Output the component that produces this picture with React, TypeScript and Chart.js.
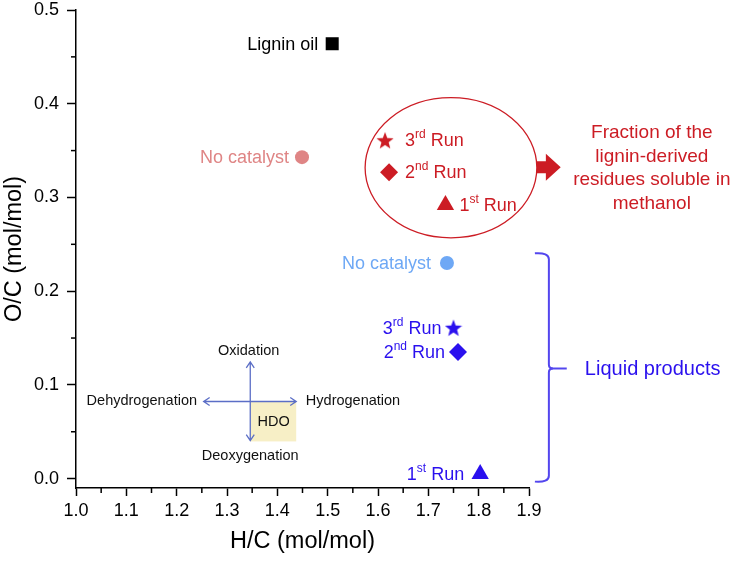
import React, { useEffect, useRef } from "react";
import { Chart, registerables } from "chart.js";
Chart.register(...registerables);

const FONT = '"Liberation Sans", Arial, Helvetica, sans-serif';

// ---- axis ticks ----
const xTicks = [1.0, 1.1, 1.2, 1.3, 1.4, 1.5, 1.6, 1.7, 1.8, 1.9];
const xMinorTicks = [1.05, 1.15, 1.25, 1.35, 1.45, 1.55, 1.65, 1.75, 1.85];
const yTicks = [0.0, 0.1, 0.2, 0.3, 0.4, 0.5];
const yMinorTicks = [0.05, 0.15, 0.25, 0.35, 0.45];

// ---- data (H/C, O/C) ----
const ligninOil = [{ x: 1.509, y: 0.464 }];
const residueNoCatalyst = [{ x: 1.449, y: 0.343 }];
const residueRun3 = [{ x: 1.614, y: 0.361 }];
const residueRun2 = [{ x: 1.622, y: 0.327 }];
const residueRun1 = [{ x: 1.734, y: 0.292 }];
const liquidNoCatalyst = [{ x: 1.737, y: 0.23 }];
const liquidRun3 = [{ x: 1.75, y: 0.161 }];
const liquidRun2 = [{ x: 1.759, y: 0.135 }];
const liquidRun1 = [{ x: 1.803, y: 0.005 }];

// ---- labels ----
const ligninOilLabel = [{ t: "Lignin oil" }];
const noCatalystLabel = [{ t: "No catalyst" }];
const run3Label = [{ t: "3" }, { t: "rd", sup: true }, { t: " Run" }];
const run2Label = [{ t: "2" }, { t: "nd", sup: true }, { t: " Run" }];
const run1Label = [{ t: "1" }, { t: "st", sup: true }, { t: " Run" }];
const fractionText = ["Fraction of the", "lignin-derived", "residues soluble in", "methanol"];
const liquidText = "Liquid products";
const diagramLabels = ["Oxidation", "Dehydrogenation", "Hydrogenation", "Deoxygenation", "HDO"];
const xTitle = "H/C (mol/mol)";
const yTitle = "O/C (mol/mol)";

// ---- colours ----
const BLACK = "#000000";
const PINK = "#df8585";
const RED = "#cc1c24";
const LIGHTBLUE = "#6ea8f5";
const BLUE = "#2a10ee";
const BRACE = "#5346ee";
const DIAG = "#5b6ec6";
const HDOFILL = "#f7efc6";

function makeStar(color: string, size: number) {
  const c = document.createElement("canvas");
  c.width = size;
  c.height = size;
  const g = c.getContext("2d")!;
  const R = size / 2;
  const r = R * 0.42;
  const cx = size / 2;
  const cy = size / 2 + R * 0.095;
  g.beginPath();
  for (let i = 0; i < 10; i++) {
    const a = -Math.PI / 2 + (i * Math.PI) / 5;
    const rad = i % 2 === 0 ? R : r;
    g.lineTo(cx + rad * Math.cos(a), cy + rad * Math.sin(a));
  }
  g.closePath();
  g.fillStyle = color;
  g.fill();
  return c;
}

type Part = { t: string; sup?: boolean };

function drawRich(ctx: CanvasRenderingContext2D, parts: Part[], x: number, y: number, align: string, size: number, color: string) {
  const mainFont = `${size}px ${FONT}`;
  const supFont = `${Math.round(size * 0.64)}px ${FONT}`;
  const widths = parts.map((p) => {
    ctx.font = p.sup ? supFont : mainFont;
    return ctx.measureText(p.t).width;
  });
  const total = widths.reduce((a, b) => a + b, 0);
  let cx = align === "left" ? x : align === "right" ? x - total : x - total / 2;
  ctx.textAlign = "left";
  ctx.textBaseline = "middle";
  ctx.fillStyle = color;
  parts.forEach((p, i) => {
    ctx.font = p.sup ? supFont : mainFont;
    ctx.fillText(p.t, cx, p.sup ? y - size * 0.36 : y);
    cx += widths[i];
  });
}

export default function App() {
  const ref = useRef<HTMLCanvasElement>(null);

  useEffect(() => {
    const canvas = ref.current!;
    const redStar = makeStar(RED, 18);
    const blueStar = makeStar(BLUE, 18);

    const series = [
      { data: ligninOil, style: "rect", radius: 9.2, color: BLACK, label: ligninOilLabel, side: "left", gap: 14, textColor: BLACK },
      { data: residueNoCatalyst, style: "circle", radius: 7, color: PINK, label: noCatalystLabel, side: "left", gap: 13, textColor: PINK },
      { data: residueRun3, style: redStar, radius: 9, color: RED, label: run3Label, side: "right", gap: 20, textColor: RED },
      { data: residueRun2, style: "rectRot", radius: 9, color: RED, label: run2Label, side: "right", gap: 16, textColor: RED },
      { data: residueRun1, style: "triangle", radius: 10, color: RED, label: run1Label, side: "right", gap: 14, textColor: RED },
      { data: liquidNoCatalyst, style: "circle", radius: 7, color: LIGHTBLUE, label: noCatalystLabel, side: "left", gap: 16, textColor: LIGHTBLUE },
      { data: liquidRun3, style: blueStar, radius: 9, color: BLUE, label: run3Label, side: "left", gap: 12, textColor: BLUE },
      { data: liquidRun2, style: "rectRot", radius: 9, color: BLUE, label: run2Label, side: "left", gap: 13, textColor: BLUE },
      { data: liquidRun1, style: "triangle", radius: 10, color: BLUE, label: run1Label, side: "left", gap: 16, textColor: BLUE },
    ];

    const annotations = {
      id: "annotations",
      afterDatasetsDraw(chart: any) {
        const ctx: CanvasRenderingContext2D = chart.ctx;
        const xs = chart.scales.x;
        const ys = chart.scales.y;
        const px = (v: number) => xs.getPixelForValue(v);
        const py = (v: number) => ys.getPixelForValue(v);
        ctx.save();

        // minor ticks
        ctx.strokeStyle = "#000";
        ctx.lineWidth = 1.5;
        const bottom = chart.chartArea.bottom;
        const left = chart.chartArea.left;
        xMinorTicks.forEach((v) => {
          const x = px(v);
          ctx.beginPath();
          ctx.moveTo(x, bottom);
          ctx.lineTo(x, bottom + 5);
          ctx.stroke();
        });
        yMinorTicks.forEach((v) => {
          const y = py(v);
          ctx.beginPath();
          ctx.moveTo(left, y);
          ctx.lineTo(left - 5, y);
          ctx.stroke();
        });

        // point labels
        series.forEach((s, i) => {
          const el = chart.getDatasetMeta(i).data[0];
          const x = s.side === "left" ? el.x - s.gap : el.x + s.gap;
          drawRich(ctx, s.label as Part[], x, el.y + 1, s.side === "left" ? "right" : "left", 18, s.textColor);
        });

        // red ellipse
        const ecx = px(1.745), ecy = py(0.3317);
        const erx = px(1.745 + 0.1706) - ecx;
        const ery = ecy - py(0.3317 + 0.0748);
        ctx.beginPath();
        ctx.ellipse(ecx, ecy, erx, ery, 0, 0, Math.PI * 2);
        ctx.strokeStyle = RED;
        ctx.lineWidth = 1.3;
        ctx.stroke();

        // red block arrow
        const ay = py(0.3323);
        const ax0 = px(1.9157), ax1 = px(1.9335), ax2 = px(1.963);
        ctx.beginPath();
        ctx.moveTo(ax0, ay - 6);
        ctx.lineTo(ax1, ay - 6);
        ctx.lineTo(ax1, ay - 13.5);
        ctx.lineTo(ax2, ay);
        ctx.lineTo(ax1, ay + 13.5);
        ctx.lineTo(ax1, ay + 6);
        ctx.lineTo(ax0, ay + 6);
        ctx.closePath();
        ctx.fillStyle = RED;
        ctx.fill();

        // fraction text
        ctx.fillStyle = RED;
        ctx.font = `19px ${FONT}`;
        ctx.textAlign = "center";
        ctx.textBaseline = "middle";
        const fx = px(2.144);
        const fy = py(0.3687);
        fractionText.forEach((line, i) => ctx.fillText(line, fx, fy + i * 23.6));

        // blue brace
        const bx = px(1.9395), bxl = px(1.9117), bxt = px(1.975);
        const bt = py(0.2404), bb = py(-0.0032), bm = py(0.1175);
        ctx.strokeStyle = BRACE;
        ctx.lineWidth = 2;
        ctx.beginPath();
        ctx.moveTo(bxl, bt);
        ctx.quadraticCurveTo(bx, bt - 1, bx, bt + 6);
        ctx.lineTo(bx, bm - 4);
        ctx.quadraticCurveTo(bx, bm, bx + 4, bm);
        ctx.quadraticCurveTo(bx, bm, bx, bm + 4);
        ctx.lineTo(bx, bb - 6);
        ctx.quadraticCurveTo(bx, bb + 1, bxl, bb);
        ctx.stroke();
        ctx.beginPath();
        ctx.moveTo(bx + 2, bm);
        ctx.lineTo(bxt, bm);
        ctx.stroke();

        ctx.fillStyle = BLUE;
        ctx.font = `20px ${FONT}`;
        ctx.textAlign = "left";
        ctx.fillText(liquidText, px(2.011), bm + 1);

        // reaction diagram
        const hx0 = px(1.3462), hy0 = py(0.0823);
        const boxR = px(1.4375), boxB = py(0.0397);
        ctx.fillStyle = HDOFILL;
        ctx.fillRect(hx0, hy0, boxR - hx0, boxB - hy0);

        ctx.strokeStyle = DIAG;
        ctx.lineWidth = 1.3;
        const vTop = py(0.1245), vBot = py(0.0406);
        const hL = px(1.2536), hR = px(1.4375);
        ctx.beginPath();
        ctx.moveTo(hx0, vTop);
        ctx.lineTo(hx0, vBot);
        ctx.moveTo(hL, hy0);
        ctx.lineTo(hR, hy0);
        ctx.moveTo(hx0 - 4, vTop + 6); ctx.lineTo(hx0, vTop); ctx.lineTo(hx0 + 4, vTop + 6);
        ctx.moveTo(hx0 - 4, vBot - 6); ctx.lineTo(hx0, vBot); ctx.lineTo(hx0 + 4, vBot - 6);
        ctx.moveTo(hL + 6, hy0 - 4); ctx.lineTo(hL, hy0); ctx.lineTo(hL + 6, hy0 + 4);
        ctx.moveTo(hR - 6, hy0 - 4); ctx.lineTo(hR, hy0); ctx.lineTo(hR - 6, hy0 + 4);
        ctx.stroke();

        ctx.fillStyle = "#111";
        ctx.font = `14.5px ${FONT}`;
        ctx.textBaseline = "middle";
        ctx.textAlign = "center";
        ctx.fillText(diagramLabels[0], px(1.343), py(0.136));
        ctx.textAlign = "right";
        ctx.fillText(diagramLabels[1], px(1.2405), py(0.0823));
        ctx.textAlign = "left";
        ctx.fillText(diagramLabels[2], px(1.4567), py(0.0823));
        ctx.textAlign = "center";
        ctx.fillText(diagramLabels[3], px(1.346), py(0.0238));
        ctx.fillText(diagramLabels[4], px(1.3925), py(0.0601));

        ctx.restore();
      },
    };

    const chart = new Chart(canvas, {
      type: "scatter",
      data: {
        datasets: series.map((s) => ({
          data: s.data,
          pointStyle: s.style as any,
          pointRadius: s.radius,
          pointBackgroundColor: s.color,
          pointBorderColor: s.color,
          pointBorderWidth: 0,
          showLine: false,
        })),
      },
      options: {
        responsive: false,
        animation: false,
        events: [],
        layout: { padding: { top: 10, right: 204, left: 0, bottom: 0 } },
        plugins: { legend: { display: false }, tooltip: { enabled: false } },
        scales: {
          x: {
            type: "linear",
            min: 1.0,
            max: 1.9,
            afterBuildTicks: (s: any) => {
              s.ticks = xTicks.map((v) => ({ value: v }));
            },
            afterFit: (s: any) => {
              s.height = 75;
              s.paddingLeft = 0;
              s.paddingRight = 0;
            },
            ticks: {
              font: { family: FONT, size: 18 },
              color: "#000",
              padding: 4,
              maxRotation: 0,
              autoSkip: false,
              callback: (v: any) => Number(v).toFixed(1),
            },
            grid: { drawOnChartArea: false, drawTicks: true, tickLength: 8, tickWidth: 1.5, tickColor: "#000" },
            border: { display: true, color: "#000", width: 1.5 },
            title: { display: true, text: xTitle, font: { family: FONT, size: 23.5 }, color: "#000", padding: { top: 0, bottom: 7 } },
          },
          y: {
            type: "linear",
            min: -0.01,
            max: 0.5,
            afterBuildTicks: (s: any) => {
              s.ticks = yTicks.map((v) => ({ value: v }));
            },
            afterFit: (s: any) => {
              s.width = 76;
              s.paddingTop = 0;
              s.paddingBottom = 0;
            },
            ticks: {
              font: { family: FONT, size: 18 },
              color: "#000",
              padding: 8,
              autoSkip: false,
              callback: (v: any) => Number(v).toFixed(1),
            },
            grid: { drawOnChartArea: false, drawTicks: true, tickLength: 9, tickWidth: 1.5, tickColor: "#000" },
            border: { display: true, color: "#000", width: 1.5 },
            title: { display: true, text: yTitle, font: { family: FONT, size: 23.5 }, color: "#000", padding: { top: 0, bottom: 0 } },
          },
        },
      },
      plugins: [annotations],
    } as any);

    return () => chart.destroy();
  }, []);

  return (
    <div style={{ position: "fixed", left: 0, top: 0, width: 733, height: 563, background: "#fff" }}>
      <canvas ref={ref} width={733} height={563} style={{ display: "block", width: 733, height: 563 }} />
    </div>
  );
}
